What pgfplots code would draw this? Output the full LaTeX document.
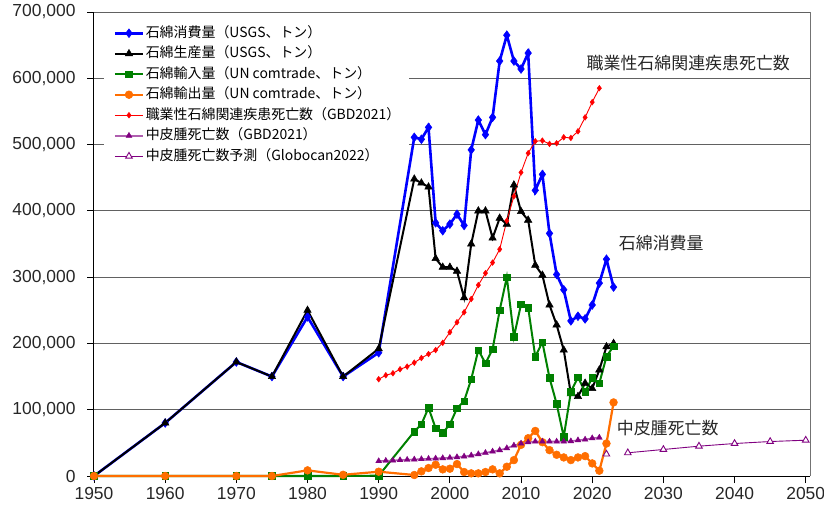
\documentclass[border=0pt]{standalone}
\usepackage{fontspec}
\setmainfont{Liberation Sans}
\newfontfamily\jp{Noto Sans CJK JP}
\usepackage{pgfplots}
\usepackage{pgfplotstable}
\pgfplotsset{compat=1.18}
\definecolor{cblue}{RGB}{0,0,255}
\definecolor{cgreen}{RGB}{0,128,0}
\definecolor{corange}{RGB}{255,110,0}
\definecolor{cpurple}{RGB}{128,0,128}
\definecolor{cviolet}{RGB}{175,95,175}

\pgfplotstableread{
year cons
1950 0
1960 80000
1970 172000
1975 150000
1980 240000
1985 150000
1990 186000
1995 511000
1996 508000
1997 526000
1998 382000
1999 370000
2000 380000
2001 395000
2002 378000
2003 492000
2004 537000
2005 515000
2006 541000
2007 626000
2008 665000
2009 626000
2010 614000
2011 638000
2012 431000
2013 455000
2014 366000
2015 304000
2016 281000
2017 234000
2018 241000
2019 237000
2020 258000
2021 291000
2022 327000
2023 285000
}\consumption

\pgfplotstableread{
year prod
1950 0
1960 80000
1970 172000
1975 150000
1980 250000
1985 150000
1990 192000
1995 448000
1996 442000
1997 436000
1998 328000
1999 315000
2000 315000
2001 309000
2002 269000
2003 350000
2004 400000
2005 400000
2006 359000
2007 389000
2008 380000
2009 439000
2010 399000
2011 386000
2012 318000
2013 303000
2014 258000
2015 228000
2016 190000
2017 124000
2018 120000
2019 140000
2020 132000
2021 160000
2022 195000
2023 200000
}\production

\pgfplotstableread{
year imp
1950 0
1960 0
1970 0
1975 0
1980 0
1985 0
1990 500
1995 67000
1996 78000
1997 103000
1998 72000
1999 65000
2000 78000
2001 102000
2002 113000
2003 146000
2004 190000
2005 170000
2006 191000
2007 250000
2008 300000
2009 210000
2010 259000
2011 254000
2012 180000
2013 202000
2014 148000
2015 109000
2016 59000
2017 127000
2018 149000
2019 127000
2020 148000
2021 140000
2022 180000
2023 196000
}\imports

\pgfplotstableread{
year exp
1950 0
1960 0
1970 0
1975 0
1980 8500
1985 1800
1990 6500
1995 1500
1996 7000
1997 12000
1998 17000
1999 10000
2000 11000
2001 18000
2002 6000
2003 4000
2004 4000
2005 6000
2006 10000
2007 4000
2008 14000
2009 24000
2010 47000
2011 57000
2012 68000
2013 51000
2014 39000
2015 32000
2016 28000
2017 24000
2018 28000
2019 30000
2020 19000
2021 8000
2022 49000
2023 111000
}\exports

\pgfplotstableread{
year occ
1990 146000
1991 152000
1992 155000
1993 161000
1994 165000
1995 171000
1996 178000
1997 184000
1998 190000
1999 201000
2000 217000
2001 232000
2002 247000
2003 267000
2004 288000
2005 306000
2006 322000
2007 342000
2008 385000
2009 422000
2010 458000
2011 487000
2012 505000
2013 506000
2014 501000
2015 502000
2016 511000
2017 510000
2018 520000
2019 541000
2020 564000
2021 585000
}\occupational

\pgfplotstableread{
year meso
1990 22500
1991 23000
1992 23500
1993 24000
1994 24500
1995 25000
1996 25500
1997 26000
1998 26500
1999 27000
2000 27500
2001 28500
2002 29500
2003 31000
2004 33000
2005 35000
2006 37000
2007 39000
2008 42000
2009 46000
2010 49000
2011 51000
2012 52000
2013 52000
2014 52000
2015 52000
2016 52000
2017 52500
2018 54000
2019 55000
2020 57000
2021 58000
}\meso

\pgfplotstableread{
year pred
2022 33000
2023 nan
2025 35000
2030 40000
2035 45000
2040 49000
2045 52000
2050 54000
}\prediction

\begin{document}
\begin{tikzpicture}
\begin{axis}[
  scale only axis,
  width=716bp, height=464bp,
  xmin=1950, xmax=2050.6,
  ymin=0, ymax=700000,
  clip=false,
  unbounded coords=jump,
  axis lines*=left,
  axis line style={-, black, line width=1bp},
  xtick={1950,1960,...,2050},
  ytick={0,100000,...,700000},
  scaled y ticks=false,
  /pgf/number format/assume math mode=true,
  tick label style={font=\fontsize{17.5}{20}\selectfont, text=black!85},
  x tick label style={yshift=-1bp, /pgf/number format/.cd, 1000 sep={}},
  y tick label style={xshift=-8bp, /pgf/number format/.cd, fixed, 1000 sep={,}},
  tick align=outside,
  major tick length=7bp,
  tick style={black, line width=0.8bp},
  ymajorgrids,
  major grid style={black!62, line width=0.9bp},
  legend cell align=left,
  legend style={at={(rel axis cs:0.0272,0.9768)}, anchor=north west,
    draw=none, fill=none, inner sep=0bp, row sep=0bp,
    font=\jp\fontsize{14}{17}\selectfont,
    nodes={inner xsep=1.5bp, inner ysep=2.5bp, text height=12bp, text depth=3.5bp}},
  legend image code/.code={\draw[mark repeat=2,mark phase=2] plot coordinates {(0bp,0bp) (14bp,0bp) (28bp,0bp)};},
]
\fill[white] (axis cs:1951.4,470000) rectangle (axis cs:1994.3,695000);
\coordinate (O) at (rel axis cs:0,0);
\draw[black!55, line width=1bp] (rel axis cs:1,0) -- (rel axis cs:1,1);

\addplot[cblue, line width=2.6bp, mark=diamond*, mark size=4.4bp, mark options={line width=0.5bp, fill=cblue}]
  table[x=year, y=cons] {\consumption};
\addlegendentry{石綿消費量（USGS、トン）}

\addplot[black, line width=2bp, mark=triangle*, mark size=4.3bp, mark options={line width=0.5bp, fill=black}]
  table[x=year, y=prod] {\production};
\addlegendentry{石綿生産量（USGS、トン）}

\addplot[cgreen, line width=2bp, mark=square*, mark size=3.3bp, mark options={line width=0.5bp, fill=cgreen}]
  table[x=year, y=imp] {\imports};
\addlegendentry{石綿輸入量（UN comtrade、トン）}

\addplot[corange, line width=2.2bp, mark=*, mark size=3.9bp, mark options={line width=0.5bp, fill=corange}]
  table[x=year, y=exp] {\exports};
\addlegendentry{石綿輸出量（UN comtrade、トン）}

\addplot[red, line width=0.9bp, mark=diamond*, mark size=2.9bp, mark options={line width=0.4bp, fill=red}]
  table[x=year, y=occ] {\occupational};
\addlegendentry{職業性石綿関連疾患死亡数（GBD2021）}

\addplot[cviolet, line width=1.6bp, mark=triangle*, mark size=3.4bp, mark options={line width=0.4bp, draw=cpurple, fill=cpurple}]
  table[x=year, y=meso] {\meso};
\addlegendentry{中皮腫死亡数（GBD2021）}

\addplot[cpurple, line width=0.9bp, mark=triangle*, mark size=3.8bp, mark options={line width=0.9bp, draw=cpurple, fill=white}]
  table[x=year, y=pred] {\prediction};
\addlegendentry{中皮腫死亡数予測（Globocan2022）}

\node[font=\jp\fontsize{17}{20}\selectfont, text=black!85] at (axis cs:2033.5,623000) {職業性石綿関連疾患死亡数};
\node[font=\jp\fontsize{17}{20}\selectfont, text=black!85] at (axis cs:2029.7,351000) {石綿消費量};
\node[font=\jp\fontsize{17}{20}\selectfont, text=black!85] at (axis cs:2030.6,73000) {中皮腫死亡数};
\end{axis}
\pgfresetboundingbox
\path (O) ++(-94bp,-35bp) rectangle ++(824bp,511bp);
\end{tikzpicture}
\end{document}
